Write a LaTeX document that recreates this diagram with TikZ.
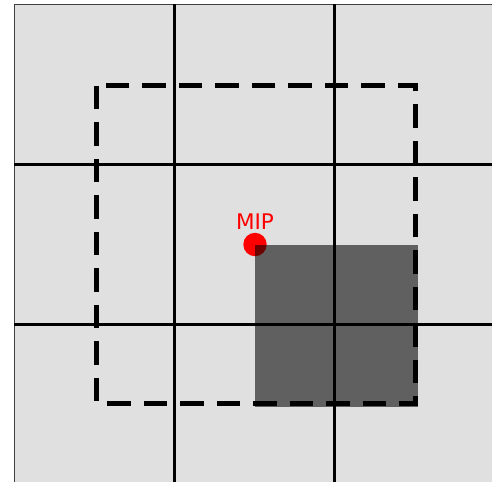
\documentclass[tikz,border=0pt]{standalone}
\usepackage{fontspec}
\setsansfont{DejaVu Sans}
\usetikzlibrary{positioning}
\definecolor{cellgray}{HTML}{E0E0E0}
\definecolor{mipred}{HTML}{FF0000}

\begin{document}
\begin{tikzpicture}[x=160pt, y=-160pt,
  gridline/.style={line width=3pt},
  window/.style={line width=5pt, dash pattern=on 23.5pt off 13pt},
  mipdot/.style={circle, fill=mipred, minimum size=23.4pt, inner sep=0pt},
  every node/.style={font=\sffamily\fontsize{21.5}{24}\selectfont}]
  \useasboundingbox (-0.0906,-0.028) rectangle (2.984,2.984);
  \clip (-0.0906,-0.028) rectangle (2.984,2.984);
  % cells
  \fill[cellgray] (0,0) rectangle (3,3);
  \draw[line width=1.5pt, black!75] (0,3) -- (0,0) -- (3,0);
  \foreach \k in {1,2}{
    \draw[gridline] (\k,0) -- (\k,3);
    \draw[gridline] (0,\k) -- (3,\k);
  }
  % window
  \draw[window] (0.512,0.508) rectangle (2.508,2.493);
  % MIP point
  \node[mipdot] (mip) at (1.503,1.5) {};
  \node[text=mipred, inner sep=0pt, above=3.3pt of mip] (miplabel) {MIP};
  % block
  \fill[black, fill opacity=0.57] (1.503,1.5) rectangle (2.52,2.515);
\end{tikzpicture}
\end{document}
